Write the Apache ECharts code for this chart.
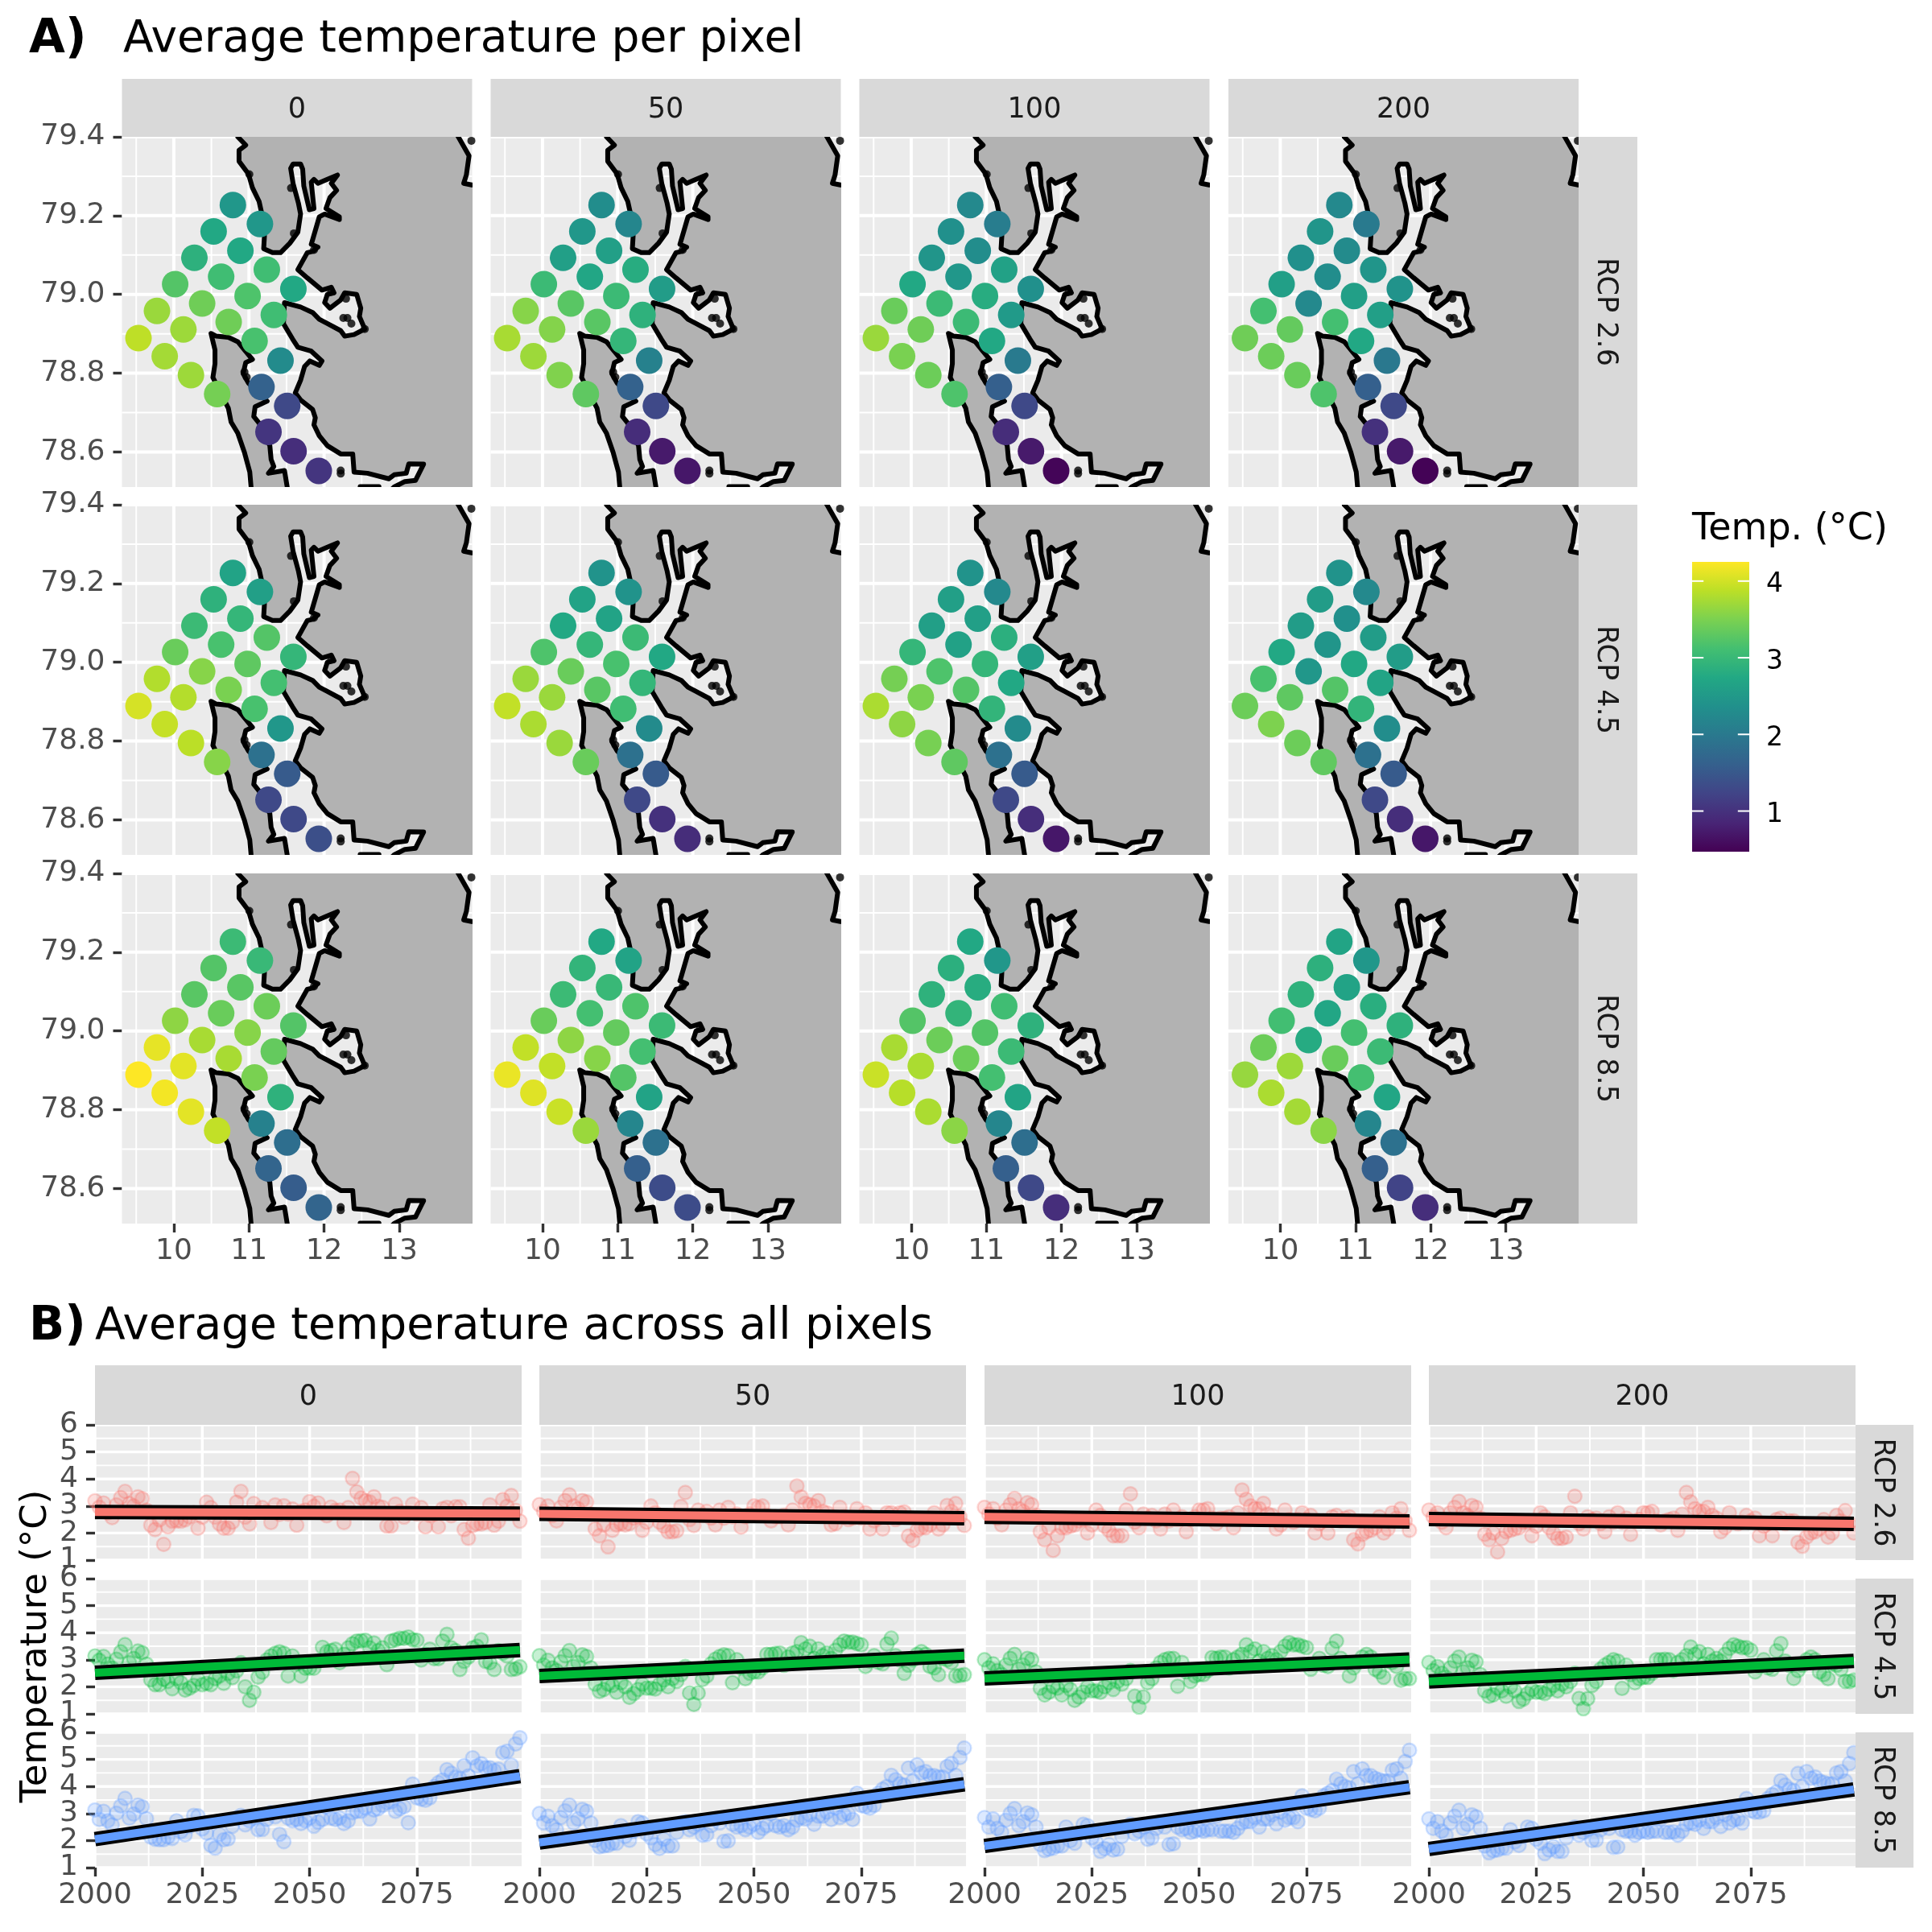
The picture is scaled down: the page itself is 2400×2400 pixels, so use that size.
<!DOCTYPE html>
<html><head><meta charset="utf-8">
<style>html,body{margin:0;background:#fff}#c{width:2400px;height:2400px}</style>
<script src="https://cdn.jsdelivr.net/npm/echarts@6/dist/echarts.min.js"></script>
</head><body><div id="c"></div>
<script>
// ---------- categories ----------
const shadingLevels = ['0','50','100','200'];
const scenarios = ['RCP 2.6','RCP 4.5','RCP 8.5'];
const years = Array.from({length:100},(_,i)=>2000+i);
// ---------- pixel positions (lon, lat) ----------
const pixelLon = [10.786,11.146,10.530,10.886,10.274,11.238,10.630,10.018,11.591,10.982,10.377,9.776,11.331,10.730,10.128,9.530,11.075,9.879,11.420,10.228,11.167,10.577,11.509,11.260,11.594,11.929];
const pixelLat = [79.227,79.179,79.160,79.111,79.093,79.063,79.045,79.026,79.014,78.996,78.977,78.958,78.948,78.930,78.911,78.889,78.882,78.843,78.832,78.795,78.765,78.747,78.717,78.651,78.602,78.552];
// ---------- pixel temperatures ----------
const pix26_0  = [2.47,2.47,2.74,2.74,2.87,3.08,3.08,3.23,2.74,3.19,3.42,3.68,3.08,3.42,3.70,3.89,3.15,3.74,2.28,3.70,1.64,3.46,1.30,1.04,0.96,1.04];
const pix26_50 = [2.32,2.21,2.47,2.59,2.59,2.81,2.70,3.04,2.55,3.04,3.27,3.57,2.89,3.27,3.55,3.76,2.96,3.70,2.13,3.53,1.64,3.31,1.30,0.94,0.73,0.70];
const pix26_100= [2.25,2.06,2.36,2.32,2.44,2.62,2.47,2.74,2.36,2.81,3.04,3.38,2.51,3.04,3.42,3.68,2.74,3.49,2.02,3.40,1.60,3.19,1.30,0.94,0.73,0.51];
const pix26_200= [2.25,2.02,2.44,2.28,2.36,2.44,2.32,2.59,2.40,2.59,2.25,3.12,2.59,3.12,3.34,3.42,2.74,3.40,1.98,3.38,1.60,3.19,1.30,1.00,0.73,0.49];
const pix45_0  = [2.66,2.59,2.89,2.96,3.04,3.23,3.15,3.38,2.96,3.31,3.57,3.82,3.12,3.49,3.83,4.02,3.15,3.93,2.47,3.87,1.87,3.57,1.53,1.30,1.30,1.38];
const pix45_50 = [2.40,2.40,2.66,2.66,2.74,3.04,2.96,3.19,2.74,3.15,3.38,3.68,2.96,3.27,3.68,3.91,3.08,3.78,2.28,3.68,1.87,3.38,1.53,1.30,1.00,0.94];
const pix45_100= [2.40,2.25,2.59,2.59,2.59,2.85,2.62,2.96,2.59,2.96,3.19,3.46,2.74,3.23,3.49,3.78,2.93,3.61,2.28,3.47,1.87,3.31,1.53,1.30,0.96,0.70];
const pix45_200= [2.40,2.25,2.55,2.36,2.55,2.55,2.44,2.74,2.55,2.74,2.47,3.15,2.68,3.23,3.31,3.40,2.93,3.51,2.32,3.40,1.87,3.32,1.53,1.30,0.96,0.70];
const pix85_0  = [3.04,3.00,3.23,3.27,3.27,3.40,3.38,3.61,3.23,3.57,3.76,4.12,3.34,3.76,4.10,4.25,3.49,4.19,2.89,4.10,2.13,3.91,1.83,1.68,1.57,1.68];
const pix85_50 = [2.74,2.66,2.93,3.00,3.04,3.19,3.12,3.38,3.04,3.34,3.61,3.91,3.12,3.57,3.91,4.14,3.23,4.08,2.66,3.95,2.21,3.68,1.87,1.60,1.34,1.34];
const pix85_100= [2.74,2.47,2.85,2.81,2.89,3.08,2.93,3.23,2.89,3.23,3.40,3.76,3.04,3.40,3.78,3.95,3.12,3.85,2.68,3.78,2.21,3.59,1.83,1.60,1.30,0.96];
const pix85_200= [2.68,2.47,2.87,2.66,2.89,2.83,2.70,3.10,2.89,3.12,2.78,3.40,3.04,3.38,3.70,3.66,3.12,3.78,2.70,3.74,2.21,3.59,1.87,1.60,1.23,0.96];
// ---------- coastline (lon, lat) ----------
const coastEast = [[10.833,79.6],[10.833,79.423],[10.851,79.400],[10.957,79.379],[10.868,79.366],[10.868,79.338],[10.993,79.306],[11.046,79.271],[11.135,79.236],[11.164,79.211],[11.206,79.148],[11.196,79.116],[11.313,79.106],[11.420,79.106],[11.544,79.130],[11.651,79.158],[11.687,79.204],[11.658,79.232],[11.587,79.282],[11.555,79.320],[11.587,79.331],[11.687,79.331],[11.715,79.318],[11.730,79.275],[11.804,79.215],[11.865,79.218],[11.829,79.285],[11.865,79.292],[11.918,79.282],[12.043,79.292],[12.178,79.303],[12.096,79.282],[12.167,79.264],[12.078,79.246],[12.025,79.218],[12.203,79.197],[12.203,79.190],[12.007,79.204],[11.936,79.197],[11.883,79.162],[11.829,79.127],[11.918,79.120],[11.847,79.109],[11.776,79.106],[11.651,79.063],[11.776,79.042],[11.972,79.011],[12.096,79.018],[12.132,79.004],[12.043,79.000],[12.007,78.979],[12.078,78.965],[12.221,78.986],[12.274,79.004],[12.434,79.000],[12.488,78.965],[12.470,78.944],[12.541,78.912],[12.399,78.898],[12.274,78.894],[12.221,78.908],[12.043,78.926],[11.936,78.937],[11.847,78.954],[11.687,78.968],[11.473,78.979],[11.459,78.926],[11.580,78.887],[11.651,78.866],[11.829,78.856],[11.972,78.831],[11.936,78.820],[11.811,78.831],[11.740,78.817],[11.687,78.782],[11.616,78.750],[11.687,78.732],[11.847,78.708],[11.883,78.687],[11.865,78.669],[11.936,78.641],[12.043,78.616],[12.221,78.595],[12.381,78.595],[12.399,78.549],[12.577,78.546],[12.861,78.532],[12.932,78.542],[13.093,78.546],[13.128,78.570],[13.324,78.569],[13.217,78.528],[13.075,78.525],[12.932,78.511],[12.754,78.479],[14.3,78.4],[14.3,79.278],[13.964,79.278],[13.858,79.282],[13.893,79.303],[13.929,79.352],[13.786,79.400],[13.715,79.423],[13.715,79.6]];
const coastWest = [[10.495,78.901],[10.566,78.894],[10.726,78.891],[10.851,78.880],[10.940,78.859],[11.046,78.835],[10.957,78.827],[10.922,78.799],[10.993,78.775],[11.242,78.729],[11.082,78.715],[11.064,78.690],[11.135,78.673],[11.278,78.616],[11.295,78.581],[11.331,78.563],[11.260,78.546],[11.473,78.553],[11.509,78.511],[11.527,78.479],[11.046,78.479],[11.028,78.511],[11.011,78.549],[10.940,78.599],[10.851,78.648],[10.762,78.676],[10.726,78.711],[10.520,78.789],[10.548,78.824],[10.548,78.859]];
const coastDash = [[12.48,78.512],[12.73,78.512],[12.73,78.50],[12.48,78.50]];
const coastBumps = [[10.94,78.803],[10.97,78.79],[11.598,79.155],[11.865,79.113],[12.096,79.007],[12.292,78.989],[12.256,78.940],[12.31,78.94],[12.363,78.926],[12.541,78.912],[12.221,78.553],[12.221,78.545],[13.96,79.39],[11.56,79.27],[11.005,79.305]];
// ---------- yearly temperature across all pixels ----------
const ts26_0 = [3.19,2.95,3.11,2.75,2.57,3.04,3.31,3.54,3.09,3.0,3.34,3.27,2.85,2.29,2.13,2.49,1.58,2.23,2.44,2.45,2.44,2.49,2.6,2.75,2.18,2.59,3.14,2.94,2.59,2.34,2.18,2.18,2.4,3.14,3.54,2.59,2.34,3.09,2.79,2.94,2.8,2.39,3.04,2.69,3.01,2.7,2.89,2.29,2.8,2.85,3.16,2.99,3.11,2.75,2.64,2.96,2.84,2.85,2.39,2.94,4.02,3.52,3.29,3.19,3.15,3.34,2.99,2.95,2.26,2.26,3.07,2.8,2.59,2.75,3.07,2.7,2.94,2.23,2.65,2.7,2.23,2.9,2.95,2.64,2.97,2.97,2.13,1.81,2.28,2.34,2.34,2.39,3.04,2.29,2.44,3.24,2.99,3.39,2.84,2.44];
const ts26_50 = [3.05,2.8,3.0,2.65,2.45,2.95,3.2,3.41,3.0,2.9,3.2,3.15,2.7,2.15,1.9,2.3,1.49,2.1,2.3,2.35,2.3,2.35,2.55,2.6,2.1,2.4,3.0,2.75,2.4,2.25,2.05,2.05,2.08,2.98,3.5,2.5,2.28,2.85,2.65,2.8,2.55,2.3,2.85,2.55,2.95,2.6,2.7,2.22,2.6,2.7,3.0,2.95,3.0,2.65,2.45,2.6,2.6,2.65,2.3,2.85,3.74,3.33,3.1,3.05,3.0,3.2,2.8,2.75,2.3,2.35,2.95,2.6,2.5,2.55,2.9,2.55,2.75,2.15,2.45,2.55,2.15,2.75,2.75,2.5,2.75,2.78,1.89,1.73,2.1,2.2,2.2,2.3,2.75,2.15,2.3,3.02,2.8,3.09,2.6,2.28];
const ts26_100 = [2.95,2.7,2.9,2.55,2.3,2.85,3.05,3.28,2.9,2.8,3.12,3.05,2.65,2.05,1.75,2.2,1.36,1.9,2.2,2.2,2.25,2.3,2.45,2.5,2.0,2.3,2.85,2.65,2.25,2.1,1.9,1.9,1.9,2.85,3.45,2.4,2.2,2.7,2.55,2.65,2.45,2.15,2.7,2.45,2.85,2.5,2.6,2.05,2.5,2.6,2.85,2.85,2.9,2.55,2.35,2.55,2.55,2.6,2.2,2.75,3.59,3.25,3.0,2.9,2.9,3.1,2.7,2.65,2.15,2.3,2.85,2.5,2.4,2.5,2.75,2.5,2.65,2.0,2.35,2.45,2.0,2.6,2.65,2.45,2.55,2.6,1.75,1.6,1.95,2.05,2.1,2.2,2.6,2.0,2.15,2.75,2.55,2.9,2.45,2.1];
const ts26_200 = [2.85,2.6,2.75,2.4,2.2,2.75,2.95,3.17,2.75,2.65,3.02,2.95,2.55,1.95,1.75,2.0,1.3,1.8,2.05,2.1,2.15,2.2,2.4,2.4,1.9,2.25,2.75,2.6,2.2,2.0,1.8,1.8,1.85,2.75,3.36,2.35,2.15,2.6,2.5,2.55,2.35,2.05,2.6,2.4,2.75,2.4,2.55,1.95,2.45,2.5,2.75,2.75,2.8,2.45,2.3,2.45,2.5,2.55,2.1,2.7,3.5,3.15,2.9,2.8,2.8,2.95,2.65,2.55,2.05,2.2,2.75,2.4,2.35,2.4,2.65,2.45,2.55,1.9,2.25,2.35,1.9,2.5,2.55,2.35,2.45,2.45,1.65,1.51,1.85,2.0,2.05,2.15,2.5,1.85,2.0,2.65,2.45,2.83,2.35,2.0];
const ts45_0 = [3.14,2.98,3.12,2.84,2.69,3.02,3.29,3.56,2.89,3.05,3.32,3.26,2.84,2.26,2.08,2.08,2.28,2.2,1.93,2.3,2.15,1.88,1.95,2.05,2.28,2.08,2.13,2.08,2.3,2.4,2.13,2.49,2.34,2.59,2.89,2.0,1.5,1.8,2.36,2.54,2.99,3.14,3.24,3.29,3.24,2.4,3.14,2.85,2.4,2.69,2.69,2.69,2.95,3.46,3.29,3.34,3.39,2.89,3.2,3.44,3.59,3.69,3.7,3.72,3.44,3.62,3.34,3.44,2.82,3.69,3.74,3.79,3.79,3.84,3.74,3.72,2.99,3.2,3.39,3.04,3.04,3.69,3.94,3.44,3.34,2.64,2.94,3.1,3.44,3.5,3.74,2.94,2.89,2.64,3.34,3.24,3.14,2.64,2.66,2.74];
const ts45_50 = [3.15,2.8,2.98,2.7,2.6,2.92,3.15,3.34,2.75,2.9,3.18,3.12,2.7,2.1,1.83,1.9,2.1,2.05,1.8,2.15,2.0,1.61,1.75,1.9,2.1,1.95,1.95,1.92,2.1,2.25,2.0,2.3,2.2,2.45,2.75,1.77,1.35,1.77,2.27,2.4,2.85,3.02,3.12,3.18,3.15,2.15,3.0,2.7,2.3,2.5,2.55,2.55,2.7,3.2,3.2,3.23,3.25,2.8,3.1,3.25,3.3,3.63,3.4,3.5,3.05,3.4,3.15,3.25,3.05,3.35,3.55,3.69,3.65,3.65,3.6,3.55,2.75,2.95,3.15,2.9,2.85,3.58,3.8,3.15,3.0,2.5,2.8,3.0,3.2,3.3,3.2,2.75,2.7,2.45,3.05,3.0,2.9,2.4,2.42,2.45];
const ts45_100 = [3.0,2.7,2.85,2.6,2.45,2.8,3.05,3.2,2.65,2.8,3.05,3.0,2.55,1.95,1.7,1.8,2.0,1.95,1.7,2.05,1.9,1.5,1.62,1.8,2.0,1.85,1.85,1.8,2.0,2.15,1.9,2.2,2.1,2.3,2.6,1.65,1.25,1.62,2.15,2.3,2.7,2.9,3.0,3.05,3.05,2.02,2.9,2.55,2.2,2.4,2.45,2.45,2.6,3.08,3.05,3.1,3.1,2.7,3.0,3.1,3.2,3.55,3.3,3.4,2.95,3.3,3.05,3.15,3.0,3.3,3.5,3.63,3.55,3.55,3.5,3.45,2.65,2.85,3.05,2.8,2.75,3.42,3.69,3.05,2.9,2.4,2.7,2.9,3.1,3.2,3.1,2.65,2.55,2.35,2.95,2.9,2.75,2.24,2.3,2.3];
const ts45_200 = [2.9,2.6,2.75,2.5,2.35,2.7,2.95,3.1,2.55,2.7,2.98,2.92,2.45,1.85,1.65,1.7,1.95,1.85,1.65,2.0,1.85,1.46,1.55,1.75,1.9,1.8,1.8,1.75,1.9,2.05,1.85,2.1,2.0,2.2,2.5,1.57,1.19,1.56,2.05,2.2,2.65,2.8,2.9,3.0,2.95,1.94,2.8,2.45,2.15,2.3,2.35,2.35,2.5,3.0,3.0,3.02,3.0,2.6,2.9,3.0,3.15,3.47,3.2,3.3,2.85,3.2,2.95,3.05,2.95,3.2,3.42,3.55,3.5,3.45,3.45,3.35,2.55,2.75,3.0,2.7,2.65,3.33,3.6,2.95,2.8,2.31,2.6,2.8,3.0,3.1,3.0,2.55,2.45,2.3,2.85,2.8,2.65,2.2,2.2,2.25];
const ts85_0 = [3.13,2.78,3.08,2.73,2.58,3.01,3.28,3.56,2.83,2.98,3.31,3.25,2.81,2.13,2.05,2.03,2.03,2.13,2.08,2.73,2.33,2.21,2.53,2.93,2.91,2.43,2.28,1.82,1.72,2.23,2.03,2.06,2.53,2.83,2.93,2.58,2.73,2.83,2.40,2.41,2.78,3.03,2.88,2.23,1.96,2.83,2.73,2.78,2.63,2.73,2.83,2.53,2.68,2.78,3.23,2.83,2.78,2.83,2.63,2.73,3.03,3.08,3.08,3.2,2.8,3.13,3.18,3.3,3.4,3.43,3.08,3.18,3.25,2.66,4.09,3.58,3.53,3.49,3.58,3.99,4.14,4.24,4.62,4.49,4.34,4.29,4.77,4.39,5.06,4.76,4.84,4.69,4.69,4.59,4.64,5.25,5.3,4.79,5.57,5.8];
const ts85_50 = [3.0,2.65,2.9,2.55,2.4,2.85,3.1,3.31,2.65,2.8,3.15,3.08,2.65,2.0,1.77,1.8,1.82,1.9,1.9,2.55,2.15,2.01,2.35,2.7,2.65,2.25,2.1,1.85,1.71,2.05,1.8,1.8,2.3,2.65,2.7,2.4,2.5,2.6,2.2,2.22,2.55,2.8,2.65,1.97,1.99,2.6,2.5,2.55,2.4,2.5,2.6,2.3,2.45,2.55,3.0,2.55,2.5,2.55,2.4,2.5,2.75,2.85,2.8,2.95,2.6,2.9,2.9,3.05,2.78,3.2,2.85,2.95,3.0,2.78,3.75,3.3,3.25,3.2,3.3,3.75,3.9,4.0,4.41,4.25,4.1,4.05,4.68,4.2,4.8,4.5,4.55,4.4,4.4,4.35,4.35,4.74,4.85,4.41,5.07,5.42];
const ts85_100 = [2.85,2.5,2.8,2.45,2.3,2.75,3.0,3.18,2.55,2.7,3.02,2.95,2.5,1.85,1.63,1.68,1.72,1.8,1.8,2.5,2.0,1.9,2.25,2.6,2.55,2.1,1.95,1.6,1.7,1.85,1.65,1.68,2.15,2.5,2.6,2.25,2.35,2.5,2.05,2.1,2.45,2.7,2.5,1.85,1.88,2.5,2.4,2.45,2.3,2.35,2.4,2.35,2.4,2.4,2.9,2.35,2.35,2.35,2.3,2.45,2.65,2.7,2.7,2.85,2.5,2.8,2.8,2.95,2.62,3.05,2.75,2.85,2.85,2.7,3.65,3.2,3.15,3.1,3.2,3.65,3.75,3.85,4.27,4.1,4.0,3.95,4.55,4.1,4.65,4.4,4.4,4.3,4.25,4.2,4.2,4.6,4.65,4.3,4.92,5.34];
const ts85_200 = [2.8,2.45,2.7,2.35,2.2,2.65,2.9,3.12,2.45,2.6,2.95,2.88,2.45,1.8,1.55,1.62,1.65,1.72,1.72,2.4,1.95,1.82,2.15,2.5,2.45,2.05,1.9,1.52,1.65,1.78,1.6,1.6,2.1,2.4,2.5,2.2,2.3,2.4,2.0,2.02,2.4,2.6,2.45,1.75,1.76,2.4,2.35,2.35,2.2,2.3,2.35,2.3,2.35,2.35,2.8,2.3,2.3,2.32,2.2,2.35,2.6,2.65,2.6,2.75,2.45,2.7,2.7,2.85,2.52,2.95,2.65,2.75,2.8,2.65,3.55,3.1,3.05,3.05,3.1,3.55,3.7,3.8,4.21,4.05,3.9,3.85,4.48,4.0,4.55,4.3,4.35,4.2,4.15,4.1,4.1,4.5,4.55,4.2,4.85,5.25];
// ---------- trend line end values [2000, 2099] ----------
const trend26 = [[2.78,2.72],[2.71,2.55],[2.60,2.43],[2.52,2.34]];
const trend45 = [[2.52,3.36],[2.40,3.15],[2.31,3.01],[2.20,2.96]];
const trend85 = [[2.05,4.38],[1.93,4.08],[1.80,3.97],[1.69,3.89]];
// ---------- tick values ----------
const lonTicks = [10,11,12,13];
const lonMinor = [9.5,10.5,11.5,12.5,13.5];
const latTicks = [78.6,78.8,79.0,79.2,79.4];
const latMinor = [78.7,78.9,79.1,79.3];
const yearTicks = [2000,2025,2050,2075];
const yearMinor = [2012.5,2037.5,2062.5,2087.5];
const tempTicks = [1,2,3,4,5,6];
const tempLabelsOdd = [1,3,5];
const tempLabelsEven = [2,4,6];
const tempMinor = [1.5,2.5,3.5,4.5,5.5];
const legendTicks = [1,2,3,4];
const viridis = ['#440154','#482576','#414487','#35608D','#2A788E','#21908C','#22A884','#43BF71','#7AD151','#BBDF27','#FDE725'];
const lineColors = ['#F8766D','#00BA38','#619CFF'];
const pointFill = ['rgba(248,118,109,0.28)','rgba(0,186,56,0.28)','rgba(97,156,255,0.28)'];
const pointEdge = ['rgba(248,118,109,0.36)','rgba(0,186,56,0.36)','rgba(97,156,255,0.36)'];

const pixelTable = [[pix26_0,pix26_50,pix26_100,pix26_200],[pix45_0,pix45_50,pix45_100,pix45_200],[pix85_0,pix85_50,pix85_100,pix85_200]];
const seriesTable = [[ts26_0,ts26_50,ts26_100,ts26_200],[ts45_0,ts45_50,ts45_100,ts45_200],[ts85_0,ts85_50,ts85_100,ts85_200]];
const trendTable = [trend26,trend45,trend85];

const FONT = '"DejaVu Sans"';
const TEMP_MIN = 0.47, TEMP_MAX = 4.25;
const aX=[151.5,609.5,1067.5,1526], aW=435, aY=[170,627,1085], aH=435;
const bX=[118,670,1223,1775], bW=530, bY=[1770,1961,2152], bH=168;
const LON=[9.31,13.97], LAT=[78.511,79.4], YR=[2000,2099.4], TMP=[1,6];

const grids=[],xAxes=[],yAxes=[],series=[],graphics=[],extraY=[];
function axis(common,min,max,ticks,showLabel,showTick,fmt,isY,labelVals){
  return Object.assign({type:'value',min,max,scale:true,
    axisLine:{show:false},splitLine:{show:false},
    axisTick:{show:showTick,length:11,customValues:ticks,lineStyle:{color:'#333333',width:3.4}},
    axisLabel:{show:showLabel,customValues:labelVals||ticks,margin:isY?21:17,
      padding:isY?[8,0,0,0]:0,fontFamily:FONT,fontSize:36,color:'#4D4D4D',formatter:fmt}},common);
}
function gridLines(g,xr,yr,xMaj,xMin,yMaj,yMin,wMaj,wMin){
  const d=[];
  xMin.forEach(v=>d.push([v,0,0]));yMin.forEach(v=>d.push([v,1,0]));
  xMaj.forEach(v=>d.push([v,0,1]));yMaj.forEach(v=>d.push([v,1,1]));
  series.push({type:'custom',xAxisIndex:g,yAxisIndex:g,clip:true,silent:true,z:1,data:d,
    renderItem(p,api){
      const v=api.value(0),dir=api.value(1),mj=api.value(2);
      const a=api.coord(dir===0?[v,yr[0]]:[xr[0],v]),b=api.coord(dir===0?[v,yr[1]]:[xr[1],v]);
      return {type:'line',shape:{x1:a[0],y1:a[1],x2:b[0],y2:b[1]},style:{stroke:'#fff',lineWidth:mj?wMaj:wMin}};
    }});
}
function strip(x,y,w,h,txt,rot){
  graphics.push({type:'rect',shape:{x,y,width:w,height:h},style:{fill:'#D9D9D9'},silent:true,z:5});
  graphics.push({type:'text',x:x+w/2+(rot?-3:0),y:y+h/2+(rot?0:3),rotation:rot||0,silent:true,z:6,
    style:{text:txt,fill:'#1A1A1A',font:'35px '+FONT,align:'center',verticalAlign:'middle'}});
}
function label(x,y,txt,size,bold,rot,align){
  graphics.push({type:'text',x,y,rotation:rot||0,silent:true,z:6,
    style:{text:txt,fill:'#000',font:(bold?'bold ':'')+size+'px '+FONT,align:align||'left',verticalAlign:'middle'}});
}
const polys=[coastEast,coastWest,coastDash];
const pointSeriesIdx=[];
// Panel set A
scenarios.forEach((sc,r)=>{
  shadingLevels.forEach((sh,c)=>{
    const g=grids.length;
    grids.push({left:aX[c],top:aY[r],width:aW,height:aH,show:true,backgroundColor:'#EBEBEB',borderWidth:0,containLabel:false});
    xAxes.push(axis({gridIndex:g},LON[0],LON[1],lonTicks,r===2,r===2,v=>String(v),false));
    yAxes.push(axis({gridIndex:g},LAT[0],LAT[1],latTicks,c===0,c===0,v=>Number(v).toFixed(1),true));
    gridLines(g,LON,LAT,lonTicks,lonMinor,latTicks,latMinor,4,2);
    series.push({type:'custom',xAxisIndex:g,yAxisIndex:g,clip:true,silent:true,z:2,data:polys.map((_,i)=>[i]),
      renderItem(p,api){
        const pts=polys[api.value(0)].map(q=>api.coord(q));
        return {type:'polygon',shape:{points:pts},style:{fill:'#B2B2B2',stroke:'#000',lineWidth:6,lineJoin:'round'}};
      }});
    series.push({type:'scatter',xAxisIndex:g,yAxisIndex:g,clip:true,silent:true,z:3,symbolSize:10,
      itemStyle:{color:'#000'},data:coastBumps});
    pointSeriesIdx.push(series.length);
    series.push({type:'scatter',xAxisIndex:g,yAxisIndex:g,clip:true,silent:true,z:4,symbolSize:33,
      itemStyle:{opacity:1},data:pixelLon.map((lon,i)=>[lon,pixelLat[i],pixelTable[r][c][i]])});
    if(r===0) strip(aX[c],98,aW,72,sh);
  });
  strip(aX[3]+aW,aY[r],73,aH,sc,-Math.PI/2);
});
// Panel set B
scenarios.forEach((sc,r)=>{
  shadingLevels.forEach((sh,c)=>{
    const g=grids.length;
    grids.push({left:bX[c],top:bY[r],width:bW,height:bH,show:true,backgroundColor:'#EBEBEB',borderWidth:0,containLabel:false});
    xAxes.push(axis({gridIndex:g},YR[0],YR[1],yearTicks,r===2,r===2,v=>String(v),false));
    yAxes.push(axis({gridIndex:g},TMP[0],TMP[1],tempTicks,c===0,c===0,v=>String(v),true,tempLabelsOdd));
    if(c===0){
      const ex=axis({gridIndex:g,position:'left'},TMP[0],TMP[1],tempLabelsEven,true,false,v=>String(v),true);
      extraY.push(ex);
    }
    gridLines(g,YR,TMP,yearTicks,yearMinor,tempTicks,tempMinor,3.4,1.9);
    series.push({type:'scatter',xAxisIndex:g,yAxisIndex:g,clip:true,silent:true,z:2,symbolSize:17,
      itemStyle:{color:pointFill[r],borderColor:pointEdge[r],borderWidth:2.4},
      data:years.map((y,i)=>[y,seriesTable[r][c][i]])});
    const tr=trendTable[r][c];
    const ends=[[years[0],tr[0]],[years[99],tr[1]]];
    series.push({type:'line',xAxisIndex:g,yAxisIndex:g,clip:true,silent:true,z:3,showSymbol:false,animation:false,
      lineStyle:{color:'#000',width:18,cap:'butt'},data:ends});
    series.push({type:'line',xAxisIndex:g,yAxisIndex:g,clip:true,silent:true,z:4,showSymbol:false,animation:false,
      lineStyle:{color:lineColors[r],width:10,cap:'butt'},data:ends});
    if(r===0) strip(bX[c],1696,bW,74,sh);
  });
  strip(bX[3]+bW,bY[r],72,bH,sc,-Math.PI/2);
});
// Legend
const lg=grids.length;
grids.push({left:2102,top:698,width:71,height:360,containLabel:false});
xAxes.push({type:'value',gridIndex:lg,min:0,max:1,show:false});
yAxes.push({type:'value',gridIndex:lg,min:TEMP_MIN,max:TEMP_MAX,scale:true,show:false});
extraY.forEach(e=>yAxes.push(e));
series.push({type:'custom',xAxisIndex:lg,yAxisIndex:lg,silent:true,z:2,data:[[0]],
  renderItem(p,api){
    const a=api.coord([0,TEMP_MAX]),b=api.coord([1,TEMP_MIN]);
    return {type:'rect',shape:{x:a[0],y:a[1],width:b[0]-a[0],height:b[1]-a[1]},
      style:{fill:new echarts.graphic.LinearGradient(0,1,0,0,viridis.map((col,i)=>({offset:i/(viridis.length-1),color:col})))}};
  }});
series.push({type:'custom',xAxisIndex:lg,yAxisIndex:lg,silent:true,z:3,data:legendTicks.map(v=>[v]),
  renderItem(p,api){
    const v=api.value(0);
    const a=api.coord([0,v]),b=api.coord([0.2,v]),c=api.coord([0.8,v]),d=api.coord([1,v]);
    const st={stroke:'#fff',lineWidth:2};
    return {type:'group',children:[
      {type:'line',shape:{x1:a[0],y1:a[1],x2:b[0],y2:b[1]},style:st},
      {type:'line',shape:{x1:c[0],y1:c[1],x2:d[0],y2:d[1]},style:st},
      {type:'text',style:{text:String(v),x:d[0]+21,y:d[1]+5,fill:'#000',font:'33px '+FONT,align:'left',verticalAlign:'middle'}}]};
  }});
label(2102,658,'Temp. (°C)',46,false);
label(36,50,'A)',58,true);
label(153,50,'Average temperature per pixel',55,false);
label(36,1649,'B)',58,true);
label(118,1649,'Average temperature across all pixels',55,false);
label(45,2045,'Temperature (°C)',45,false,Math.PI/2,'center');

const chart=echarts.init(document.getElementById('c'));
chart.setOption({
  animation:false,backgroundColor:'#fff',
  grid:grids,xAxis:xAxes,yAxis:yAxes,series,
  visualMap:{type:'continuous',show:false,min:TEMP_MIN,max:TEMP_MAX,dimension:2,seriesIndex:pointSeriesIdx,inRange:{color:viridis}},
  graphic:{elements:graphics}
});
</script></body></html>
